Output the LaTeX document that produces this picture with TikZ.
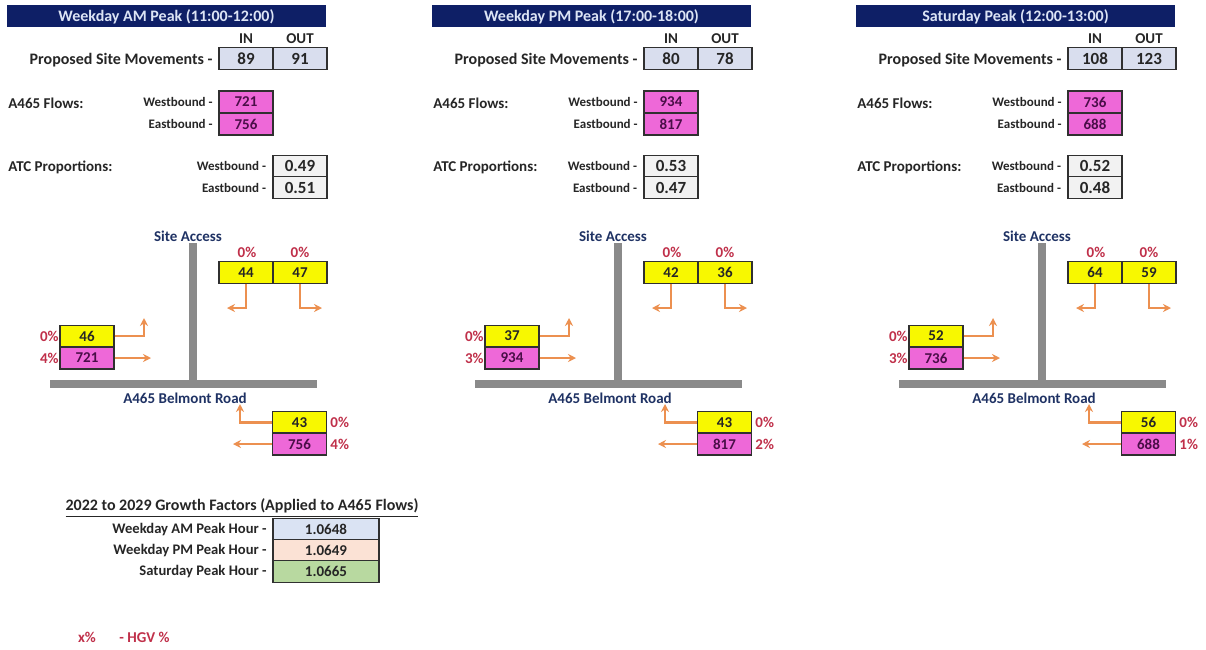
\documentclass[tikz,border=0pt]{standalone}
\usepackage{fontspec}
\setmainfont{Carlito}
\usetikzlibrary{arrows.meta}
\definecolor{navy}{HTML}{0E1F66}
\definecolor{titletext}{HTML}{DCE4F5}
\definecolor{inoutfill}{HTML}{D9DEEE}
\definecolor{pinkfill}{HTML}{EE68D8}
\definecolor{pinktext}{HTML}{4A0E48}
\definecolor{yellowfill}{HTML}{F8F800}
\definecolor{atcfill}{HTML}{F2F2F2}
\definecolor{roadgray}{HTML}{8A8A8A}
\definecolor{roadtext}{HTML}{1F3264}
\definecolor{pctred}{HTML}{C0304A}
\definecolor{arrorange}{HTML}{EC9050}
\definecolor{labtext}{HTML}{262626}
\definecolor{boxline}{HTML}{303030}
\definecolor{gfone}{HTML}{DAE3F3}
\definecolor{gftwo}{HTML}{FBE2D5}
\definecolor{gfthree}{HTML}{B8D9A0}
\begin{document}
\begin{tikzpicture}[x=0.5pt,y=-0.5pt,
  cell/.style={draw=boxline, line width=0.6pt, minimum width=27pt, minimum height=10.75pt, inner sep=0pt, text=labtext},
  inoutbox/.style={cell, fill=inoutfill, font=\bfseries\fontsize{8.5}{8.5}\selectfont},
  pinkbox/.style={cell, fill=pinkfill, text=pinktext, minimum height=11pt, font=\bfseries\fontsize{7.5}{7.5}\selectfont},
  atcbox/.style={cell, fill=atcfill, font=\bfseries\fontsize{8.5}{8.5}\selectfont},
  ybox/.style={cell, fill=yellowfill, font=\bfseries\fontsize{7.5}{7.5}\selectfont},
  titlebar/.style={fill=navy, text=titletext, minimum width=159.5pt, minimum height=11pt, inner sep=0pt, font=\bfseries\fontsize{8}{8}\selectfont},
  hdr/.style={text=labtext, inner sep=0pt, font=\bfseries\fontsize{7.5}{7.5}\selectfont},
  biglab/.style={text=labtext, inner sep=0pt, font=\bfseries\fontsize{8}{8}\selectfont},
  seclab/.style={text=labtext, inner sep=0pt, anchor=west, font=\bfseries\fontsize{7.5}{7.5}\selectfont},
  smalllab/.style={text=labtext, inner sep=0pt, anchor=east, font=\bfseries\fontsize{6.5}{6.5}\selectfont},
  roadlab/.style={text=roadtext, inner sep=0pt, font=\bfseries\fontsize{7.5}{7.5}\selectfont},
  pct/.style={text=pctred, inner sep=0pt, font=\bfseries\fontsize{7.5}{7.5}\selectfont},
  road/.style={draw=roadgray, line width=4pt},
  flow/.style={draw=arrorange, line width=1.25pt, -{Stealth[length=4pt,width=4pt]}},
  gfbox/.style={cell, minimum width=53pt, font=\bfseries\fontsize{7.5}{7.5}\selectfont},
  gflab/.style={text=labtext, inner sep=0pt, anchor=east, font=\bfseries\fontsize{7.3}{7.3}\selectfont}
]
\fill[white] (0,0) rectangle (1206,649);
\useasboundingbox (0,0) rectangle (1206,649);

\foreach \ox/\ttl/\vin/\vout/\wb/\eb/\atcx/\aw/\ae/\ua/\ub/\ly/\lp/\lpp/\dy/\dp/\dpp [count=\i] in {
  0/Weekday AM Peak (11:00-12:00)/89/91/721/756/300/0.49/0.51/44/47/46/721/4/43/756/4,
  425/Weekday PM Peak (17:00-18:00)/80/78/934/817/246/0.53/0.47/42/36/37/934/3/43/817/2,
  849/Saturday Peak (12:00-13:00)/108/123/736/688/246/0.52/0.48/64/59/52/736/3/56/688/1}{
\begin{scope}[shift={(\ox,0)}]
  % header tables
  \node[titlebar] (t\i) at (166.5,16) {\ttl};
  \node[hdr] (hin\i) at (246,39) {IN};
  \node[hdr] (hout\i) at (300,39) {OUT};
  \node[inoutbox] (in\i) at (246,58.5) {\vin};
  \node[inoutbox] (out\i) at (300,58.5) {\vout};
  \node[biglab, anchor=east] (psm\i) at (213,59) {Proposed Site Movements -};
  \node[seclab] (af\i) at (8,103) {A465 Flows:};
  \node[smalllab] (afw\i) at (213,102) {Westbound -};
  \node[smalllab] (afe\i) at (213,124) {Eastbound -};
  \node[pinkbox] (fw\i) at (246,102) {\wb};
  \node[pinkbox] (fe\i) at (246,124) {\eb};
  \node[seclab] (atc\i) at (8,166) {ATC Proportions:};
  \node[atcbox] (pw\i) at (\atcx,166) {\aw};
  \node[atcbox] (pe\i) at (\atcx,187.5) {\ae};
  \node[smalllab] (pwl\i) at ([xshift=-3pt]pw\i.west) {Westbound -};
  \node[smalllab] (pel\i) at ([xshift=-3pt]pe\i.west) {Eastbound -};
  % roads
  \draw[road] (192.5,243) -- (192.5,384);
  \draw[road] (50,384) -- (317,384);
  \node[roadlab] (sa\i) at (188,236) {Site Access};
  \node[roadlab] (br\i) at (185,398) {A465 Belmont Road};
  % site access exits
  \node[ybox] (ua\i) at (246,272.5) {\ua};
  \node[ybox] (ub\i) at (300,272.5) {\ub};
  \node[pct] (uap\i) at (247,252) {0\%};
  \node[pct] (ubp\i) at (300,252) {0\%};
  \coordinate (uae\i) at (227,308);
  \coordinate (ube\i) at (322,308);
  \draw[flow] (ua\i.south) |- (uae\i);
  \draw[flow] (ub\i.south) |- (ube\i);
  % westbound approach
  \node[ybox] (ly\i) at (87,336) {\ly};
  \node[pinkbox] (lp\i) at (87,358) {\lp};
  \node[pct, anchor=east] (lyp\i) at (59,336) {0\%};
  \node[pct, anchor=east] (lpp\i) at (59,358) {\lpp\%};
  \coordinate (lye\i) at (144,318);
  \coordinate (lpe\i) at (151,358);
  \draw[flow] (ly\i.east) -| (lye\i);
  \draw[flow] (lp\i.east) -- (lpe\i);
  % eastbound approach
  \node[ybox] (dy\i) at (299.5,422.5) {\dy};
  \node[pinkbox] (dp\i) at (299.5,444) {\dp};
  \node[pct, anchor=west] (dyp\i) at (330,422.5) {0\%};
  \node[pct, anchor=west] (dpp\i) at (330,444) {\dpp\%};
  \coordinate (dye\i) at (240,404);
  \coordinate (dpe\i) at (233,444);
  \draw[flow] (dy\i.west) -| (dye\i);
  \draw[flow] (dp\i.west) -- (dpe\i);
\end{scope}
}

% growth factors
\node[text=labtext, inner sep=0pt, font=\bfseries\fontsize{8}{8}\selectfont] (gft) at (242,508) {\underline{2022 to 2029 Growth Factors (Applied to A465 Flows)}};
\node[gfbox, fill=gfone] (g1) at (326,529.5) {1.0648};
\node[gfbox, fill=gftwo] (g2) at (326,550.5) {1.0649};
\node[gfbox, fill=gfthree] (g3) at (326,571.5) {1.0665};
\node[gflab] (g1l) at (267,530) {Weekday AM Peak Hour -};
\node[gflab] (g2l) at (267,551) {Weekday PM Peak Hour -};
\node[gflab] (g3l) at (267,572) {Saturday Peak Hour -};

% legend
\node[pct] (lgx) at (87,637) {x\%};
\node[pct, anchor=west] (lgh) at (119,637) {- HGV \%};
\end{tikzpicture}
\end{document}
